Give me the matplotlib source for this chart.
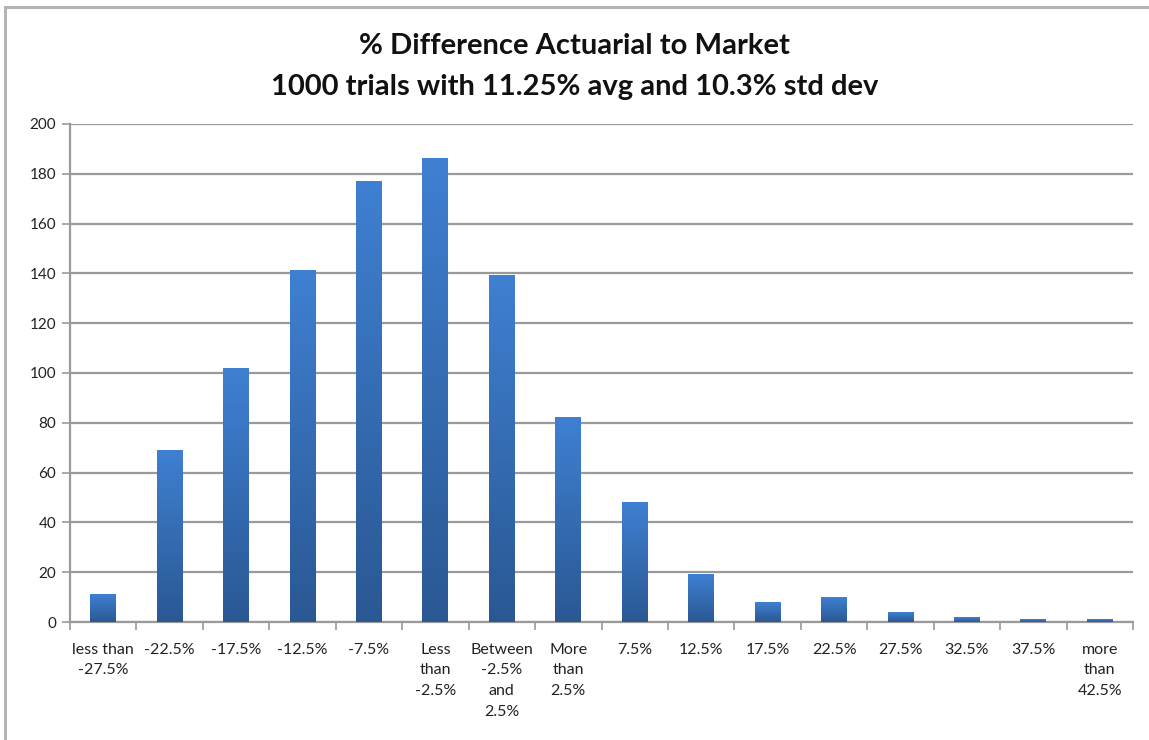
import matplotlib
matplotlib.use("Agg")
from matplotlib import pyplot as plt
from matplotlib.patches import Rectangle
import numpy as np

# histogram buckets for the % difference, actuarial vs market
categories = ["less than\n-27.5%", "-22.5%", "-17.5%", "-12.5%", "-7.5%",
              "Less\nthan\n-2.5%", "Between\n-2.5%\nand\n2.5%", "More\nthan\n2.5%",
              "7.5%", "12.5%", "17.5%", "22.5%", "27.5%", "32.5%", "37.5%",
              "more\nthan\n42.5%"]
counts = [11, 69, 102, 141, 177, 186, 139, 82, 48, 19, 8, 10, 4, 2, 1, 1]
yticks = [0, 20, 40, 60, 80, 100, 120, 140, 160, 180, 200]

plt.rcParams['font.family'] = ['Lato', 'DejaVu Sans']

fig = plt.figure(figsize=(11.49, 7.40), dpi=100)
fig.patch.set_facecolor('white')

# outer frame around the chart area
fig.add_artist(Rectangle((5 / 1149, -0.05), 1.2, 1 - 7 / 740 + 0.05,
                         transform=fig.transFigure, fill=False,
                         edgecolor='#b4b4b4', linewidth=2.2))

ax = fig.add_axes([70 / 1149, 1 - 622 / 740, (1133 - 70) / 1149, (622 - 124) / 740])

n = len(categories)
x = np.arange(n) + 0.5
width = 0.39

# vertical gradient per bar: lighter at the top, darker at the base
grad = np.linspace(0, 1, 256).reshape(-1, 1)
top_col = np.array([0x3f, 0x80, 0xd2]) / 255
bot_col = np.array([0x2a, 0x58, 0x93]) / 255
img = bot_col[None, None, :] * (1 - grad[:, :, None]) + top_col[None, None, :] * grad[:, :, None]

bars = ax.bar(x, counts, width=width, color='none', edgecolor='none', zorder=3)
for b in bars:
    x0 = b.get_x()
    h = b.get_height()
    ax.imshow(img, extent=[x0, x0 + b.get_width(), 0, h], origin='lower',
              aspect='auto', zorder=3, interpolation='bilinear')

ax.set_xlim(0, n)
ax.set_ylim(0, 200)
ax.set_yticks(yticks)
ax.yaxis.grid(True, color='#9a9a9a', linewidth=1.6, zorder=0)
ax.set_axisbelow(True)

ax.set_xticks(x)
ax.set_xticklabels(categories, fontsize=11.5, color='#222222', linespacing=1.6,
                   va='top')
ax.set_xticks(np.arange(n + 1), minor=True)
ax.tick_params(axis='x', which='major', length=0, pad=15)
ax.tick_params(axis='x', which='minor', length=6, width=1.2, color='#9a9a9a')
ax.tick_params(axis='y', length=6, width=1.2, color='#9a9a9a', labelsize=11,
               labelcolor='#222222', pad=4)

for s in ['top', 'right']:
    ax.spines[s].set_visible(False)
for s in ['left', 'bottom']:
    ax.spines[s].set_color('#9a9a9a')
    ax.spines[s].set_linewidth(1.6)

fig.text(0.5, 1 - 46 / 740, "% Difference Actuarial to Market", ha='center',
         va='center', fontsize=21, fontweight='bold', color='#111111')
fig.text(0.5, 1 - 87 / 740, "1000 trials with 11.25% avg and 10.3% std dev",
         ha='center', va='center', fontsize=21, fontweight='bold', color='#111111')

fig.savefig("out.png", dpi=100, facecolor='white')
